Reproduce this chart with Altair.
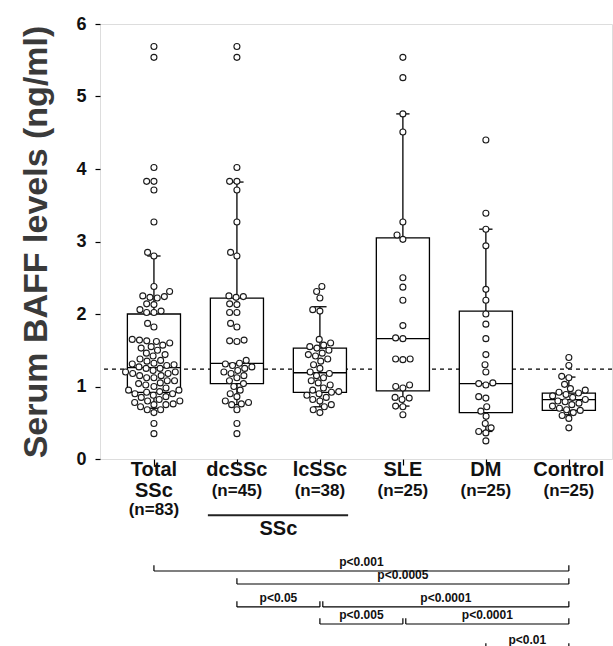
import altair as alt
import pandas as pd

# ---------------- data ----------------
groups = ["Total SSc", "dcSSc", "lcSSc", "SLE", "DM", "Control"]
group_pos = [1, 2, 3, 4, 5, 6]

dcssc = [5.69, 5.54, 4.02, 3.83, 3.83, 3.71, 3.27, 2.85, 2.80,
         2.25, 2.24, 2.23, 2.14, 2.13, 2.02, 2.02, 1.87, 1.82, 1.64, 1.63, 1.62,
         1.36, 1.32, 1.31, 1.29, 1.27, 1.25, 1.22, 1.20, 1.18, 1.15, 1.12, 1.08,
         1.04, 1.00, 0.95, 0.90, 0.86, 0.80, 0.78, 0.76, 0.75, 0.68, 0.49, 0.35]
lcssc = [2.38, 2.31, 2.22, 2.06, 2.04, 1.65, 1.60, 1.57, 1.55, 1.53,
         1.50, 1.46, 1.44, 1.42, 1.38, 1.35, 1.30, 1.25, 1.20, 1.18,
         1.15, 1.12, 1.08, 1.05, 1.02, 0.98, 0.95, 0.93, 0.92, 0.90,
         0.88, 0.85, 0.82, 0.80, 0.75, 0.72, 0.68, 0.64]
sle = [5.54, 5.26, 4.76, 4.51, 3.27, 3.09, 3.03, 2.50, 2.37, 2.19, 1.84, 1.67, 1.66,
       1.38, 1.38, 1.37, 1.02, 1.00, 0.98, 0.85, 0.84, 0.82, 0.73, 0.72, 0.61]
dm = [4.40, 3.39, 3.17, 2.94, 2.34, 2.19, 2.00, 1.86, 1.66, 1.44, 1.30, 1.20, 1.05,
      1.04, 1.02, 0.86, 0.84, 0.72, 0.66, 0.59, 0.49, 0.43, 0.38, 0.36, 0.25]
control = [1.40, 1.29, 1.14, 1.12, 1.03, 0.97, 0.95, 0.92, 0.91, 0.89, 0.87, 0.85, 0.82,
           0.80, 0.79, 0.77, 0.75, 0.73, 0.70, 0.68, 0.67, 0.64, 0.60, 0.56, 0.43]
total_ssc = dcssc + lcssc

# box statistics
box_q1 = [0.92, 1.04, 0.92, 0.94, 0.64, 0.67]
box_median = [1.26, 1.32, 1.19, 1.66, 1.04, 0.82]
box_q3 = [2.00, 2.22, 1.53, 3.05, 2.04, 0.91]
whisker_low = [0.70, 0.75, 0.72, 0.73, 0.38, 0.61]
whisker_high = [2.80, 3.82, 2.10, 4.76, 3.17, 1.13]

cutoff = [1.24]

label_main = ["Total", "dcSSc", "lcSSc", "SLE", "DM", "Control"]
label_counts = ["(n=83)", "(n=45)", "(n=38)", "(n=25)", "(n=25)", "(n=25)"]

bracket_from = [1, 2, 2, 3, 3, 4, 5]
bracket_to = [6, 6, 3, 6, 4, 6, 6]
bracket_text = ["p<0.001", "p<0.0005", "p<0.05", "p<0.0001", "p<0.005", "p<0.0001", "p<0.01"]
bracket_row = [0, 1, 2, 2, 3, 3, 4]

# ---------------- layout helpers ----------------
PX_X, PX_Y = 83.0, 72.5
DOT = 7.3
BOX_HALF = 0.32
CAP_HALF = 0.08
FONT = "Liberation Sans"

row_levels = [-0.15, -0.44, -0.70]
group_label_level = -0.96
underline_level = -0.775
bracket_levels = [-1.545, -1.724, -2.041, -2.276, -2.62]


def swarm(vals):
    order = sorted(range(len(vals)), key=lambda i: vals[i])
    placed, offs = [], [0.0] * len(vals)
    for i in order:
        y = vals[i] * PX_Y
        ivs = []
        for px, py in placed:
            dy = abs(py - y)
            if dy < DOT:
                h = (DOT * DOT - dy * dy) ** 0.5
                ivs.append((px - h, px + h))
        cands = [0.0] + [a for a, b in ivs] + [b for a, b in ivs]
        cands.sort(key=lambda c: (abs(c), c))
        for c in cands:
            if all(not (a + 1e-6 < c < b - 1e-6) for a, b in ivs):
                offs[i] = c
                break
        placed.append((offs[i], y))
    return [o / PX_X for o in offs]


series = [total_ssc, dcssc, lcssc, sle, dm, control]
rows = []
for g, p, vals in zip(groups, group_pos, series):
    for v, o in zip(vals, swarm(vals)):
        rows.append({"group": g, "v": v, "x": p + o})
points = pd.DataFrame(rows)

boxes = pd.DataFrame({"group": groups, "pos": group_pos, "q1": box_q1, "med": box_median,
                      "q3": box_q3, "lo": whisker_low, "hi": whisker_high})

NAME_SIZE, COUNT_SIZE = 20, 17
lab_rows = []
for i, p in enumerate(group_pos):
    if i == 0:
        lab_rows += [{"x": p, "y": row_levels[0], "t": "Total", "s": NAME_SIZE},
                     {"x": p, "y": row_levels[1], "t": "SSc", "s": NAME_SIZE},
                     {"x": p, "y": row_levels[2], "t": label_counts[i], "s": COUNT_SIZE}]
    else:
        lab_rows += [{"x": p, "y": row_levels[0], "t": label_main[i], "s": NAME_SIZE},
                     {"x": p, "y": row_levels[1], "t": label_counts[i], "s": COUNT_SIZE}]
lab_rows.append({"x": (2 + 3) / 2, "y": group_label_level, "t": "SSc", "s": NAME_SIZE})
labels = pd.DataFrame(lab_rows)

underline = pd.DataFrame({"x1": [2 - 0.35], "x2": [3 + 0.34], "y": [underline_level]})

br = []
ends = {(bracket_row[k], bracket_to[k]) for k in range(len(bracket_to))}
for k in range(len(bracket_from)):
    lvl = bracket_levels[bracket_row[k]]
    x1 = bracket_from[k] + (0.035 if (bracket_row[k], bracket_from[k]) in ends else 0.0)
    x2 = bracket_to[k]
    br.append({"x1": x1, "x2": x2, "y": lvl, "yt": lvl + 0.08, "t": bracket_text[k],
               "xm": (x1 + x2) / 2})
brackets = pd.DataFrame(br)

# ---------------- encodings ----------------
xs = alt.Scale(domain=[0.35, 6.52], nice=False, zero=False)
ys = alt.Scale(domain=[0, 6], nice=False, zero=False)
XAX = alt.Axis(values=group_pos, labels=False, tickSize=6, tickColor="black", tickWidth=1.2,
               domain=False, grid=False, title=None)
YAX = alt.Axis(values=[0, 1, 2, 3, 4, 5, 6], tickSize=5, tickColor="black", tickWidth=1.2,
               domain=False, grid=False, labelFont=FONT, labelFontSize=18, labelFontWeight="bold",
               labelColor="#111", labelPadding=9, title="Serum BAFF levels (ng/ml)",
               titleFont=FONT, titleFontSize=34, titleFontWeight="bold", titleColor="#3a3a3a",
               titlePadding=22)
TITLE_Y = "Serum BAFF levels (ng/ml)"


def X(f):
    return alt.X(f, type="quantitative", scale=xs, axis=XAX, title=None)


def Y(f):
    return alt.Y(f, type="quantitative", scale=ys, axis=YAX, title=TITLE_Y)


dash = alt.Chart(pd.DataFrame({"v": cutoff})).mark_rule(
    color="black", strokeDash=[4, 4], strokeWidth=1.1).encode(y=Y("v"))

box_base = alt.Chart(boxes).transform_calculate(
    xl=f"datum.pos - {BOX_HALF}", xr=f"datum.pos + {BOX_HALF}",
    cl=f"datum.pos - {CAP_HALF}", cr=f"datum.pos + {CAP_HALF}")

whisk_hi = box_base.mark_rule(color="black", strokeWidth=1.3).encode(x=X("pos"), y=Y("q3"), y2="hi")
whisk_lo = box_base.mark_rule(color="black", strokeWidth=1.3).encode(x=X("pos"), y=Y("q1"), y2="lo")
cap_hi = box_base.mark_rule(color="black", strokeWidth=1.3).encode(x=X("cl"), x2="cr", y=Y("hi"))
cap_lo = box_base.mark_rule(color="black", strokeWidth=1.3).encode(x=X("cl"), x2="cr", y=Y("lo"))
box = box_base.mark_rect(fill="white", stroke="black", strokeWidth=1.3).encode(
    x=X("xl"), x2="xr", y=Y("q1"), y2="q3")
med = box_base.mark_rule(color="black", strokeWidth=1.3).encode(x=X("xl"), x2="xr", y=Y("med"))

dots = alt.Chart(points).mark_point(shape="circle", filled=True, fill="white", stroke="#1a1a1a",
                                    strokeWidth=1.1, size=36, opacity=1).encode(x=X("x"), y=Y("v"))

text_layer = alt.Chart(labels).mark_text(font=FONT, fontWeight="bold", color="#111",
                                         baseline="middle", align="center").encode(
    x=X("x"), y=Y("y"), text="t:N", size=alt.Size("s:Q", scale=None, legend=None))

uline = alt.Chart(underline).mark_rule(color="#222", strokeWidth=2).encode(x=X("x1"), x2="x2", y=Y("y"))

br_line = alt.Chart(brackets).mark_rule(color="black", strokeWidth=1.2).encode(x=X("x1"), x2="x2", y=Y("y"))
br_t1 = alt.Chart(brackets).mark_rule(color="black", strokeWidth=1.2).encode(x=X("x1"), y=Y("y"), y2="yt")
br_t2 = alt.Chart(brackets).mark_rule(color="black", strokeWidth=1.2).encode(x=X("x2"), y=Y("y"), y2="yt")
br_txt = alt.Chart(brackets).mark_text(font=FONT, fontWeight="bold", fontSize=12, color="#111",
                                       baseline="bottom", align="center", dy=-2).encode(
    x=X("xm"), y=Y("y"), text="t:N")

chart = alt.layer(
    dash, whisk_hi, whisk_lo, cap_hi, cap_lo, box, med, dots,
    text_layer, uline, br_line, br_t1, br_t2, br_txt
).properties(
    width=512, height=435,
    autosize=alt.AutoSizeParams(type="none"),
    padding={"left": 100, "top": 24, "right": 1, "bottom": 187},
).configure_view(stroke="black", strokeWidth=1.3).configure(background="white")

chart.save("out.html", embed_options={"renderer": "svg", "actions": False})
